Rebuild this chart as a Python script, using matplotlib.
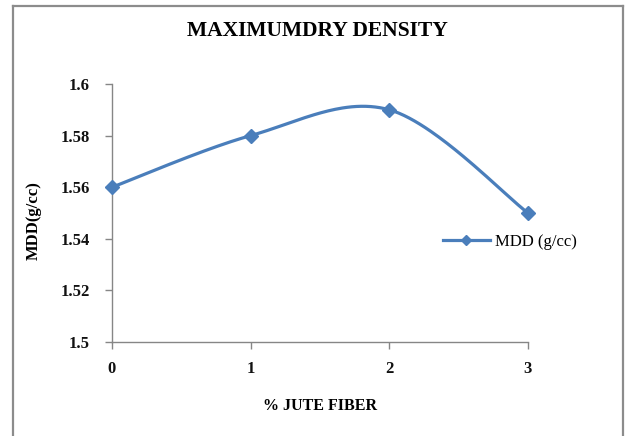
import numpy as np
import matplotlib
matplotlib.use("Agg")
import matplotlib.pyplot as plt
from matplotlib.lines import Line2D

# ---- data ----
fiber_pct = [0, 1, 2, 3]
mdd = [1.56, 1.58, 1.59, 1.55]
x_ticks = [0, 1, 2, 3]
y_ticks = [1.5, 1.52, 1.54, 1.56, 1.58, 1.6]
y_tick_labels = ["1.5", "1.52", "1.54", "1.56", "1.58", "1.6"]
title = "MAXIMUMDRY DENSITY"
x_label = "% JUTE FIBER"
y_label = "MDD(g/cc)"
series_name = "MDD (g/cc)"

LINE = "#4A7EBB"
AXC = "#868686"
SERIF = ["Liberation Serif", "DejaVu Serif"]


def catmull_rom(xs, ys, n=60):
    xs = np.asarray(xs, float)
    ys = np.asarray(ys, float)
    px = np.concatenate([[xs[0]], xs, [xs[-1]]])
    py = np.concatenate([[ys[0]], ys, [ys[-1]]])
    outx, outy = [], []
    for i in range(1, len(px) - 2):
        t = np.linspace(0, 1, n)
        mx0 = (px[i + 1] - px[i - 1]) / 2
        mx1 = (px[i + 2] - px[i]) / 2
        my0 = (py[i + 1] - py[i - 1]) / 2
        my1 = (py[i + 2] - py[i]) / 2
        h00 = 2 * t**3 - 3 * t**2 + 1
        h10 = t**3 - 2 * t**2 + t
        h01 = -2 * t**3 + 3 * t**2
        h11 = t**3 - t**2
        outx.append(h00 * px[i] + h10 * mx0 + h01 * px[i + 1] + h11 * mx1)
        outy.append(h00 * py[i] + h10 * my0 + h01 * py[i + 1] + h11 * my1)
    return np.concatenate(outx), np.concatenate(outy)


fig = plt.figure(figsize=(6.26, 4.36), dpi=100)
W, H = 626, 436
ax = fig.add_axes([112 / W, 1 - 342 / H, (528 - 112) / W, (342 - 84) / H])

sx, sy = catmull_rom(fiber_pct, mdd)
ax.plot(sx, sy, color=LINE, lw=2.3, solid_capstyle="round", zorder=3, clip_on=False)
ax.plot(fiber_pct, mdd, linestyle="none", marker="D", ms=7, color=LINE, zorder=4, clip_on=False)

ax.set_xlim(0, 3)
ax.set_ylim(1.5, 1.6)
ax.set_xticks(x_ticks)
ax.set_xticklabels([str(v) for v in x_ticks])
ax.set_yticks(y_ticks)
ax.set_yticklabels(y_tick_labels)

for s in ["top", "right"]:
    ax.spines[s].set_visible(False)
for s in ["left", "bottom"]:
    ax.spines[s].set_color(AXC)
    ax.spines[s].set_linewidth(1)
ax.tick_params(axis="both", direction="out", length=5, width=1, color=AXC)
ax.tick_params(axis="y", pad=11)
ax.tick_params(axis="x", pad=9)
for lab in ax.get_xticklabels() + ax.get_yticklabels():
    lab.set_family(SERIF)
    lab.set_fontweight("bold")
    lab.set_fontsize(12)
    lab.set_color("#111111")

ax.set_xlabel(x_label, family=SERIF, fontweight="bold", fontsize=11.5)
ax.xaxis.set_label_coords(0.5, (342 - 398) / 258)
ax.set_ylabel(y_label, family=SERIF, fontweight="bold", fontsize=12)
ax.yaxis.set_label_coords((42 - 112) / 416, (342 - 221) / 258)

fig.text(317 / W, 1 - 31 / H, title, ha="center", va="center",
         family=SERIF, fontweight="bold", fontsize=15.5)

handle = Line2D([], [], color=LINE, lw=2.3, marker="D", ms=5)
fig.legend([handle], [series_name], loc="center left",
           bbox_to_anchor=(443 / W, 1 - 242 / H), frameon=False,
           prop={"family": SERIF, "size": 12}, handlelength=2.8,
           handletextpad=0.3, borderaxespad=0, borderpad=0)

# outer chart frame (left, top, right)
fc = "#8c8c8c"
fig.add_artist(Line2D([13 / W, 13 / W], [0, 1 - 6 / H], transform=fig.transFigure, color=fc, lw=1.6))
fig.add_artist(Line2D([13 / W, 623 / W], [1 - 6 / H, 1 - 6 / H], transform=fig.transFigure, color=fc, lw=1.6))
fig.add_artist(Line2D([623 / W, 623 / W], [0, 1 - 6 / H], transform=fig.transFigure, color=fc, lw=1.6))

fig.savefig("out.png", dpi=100)
